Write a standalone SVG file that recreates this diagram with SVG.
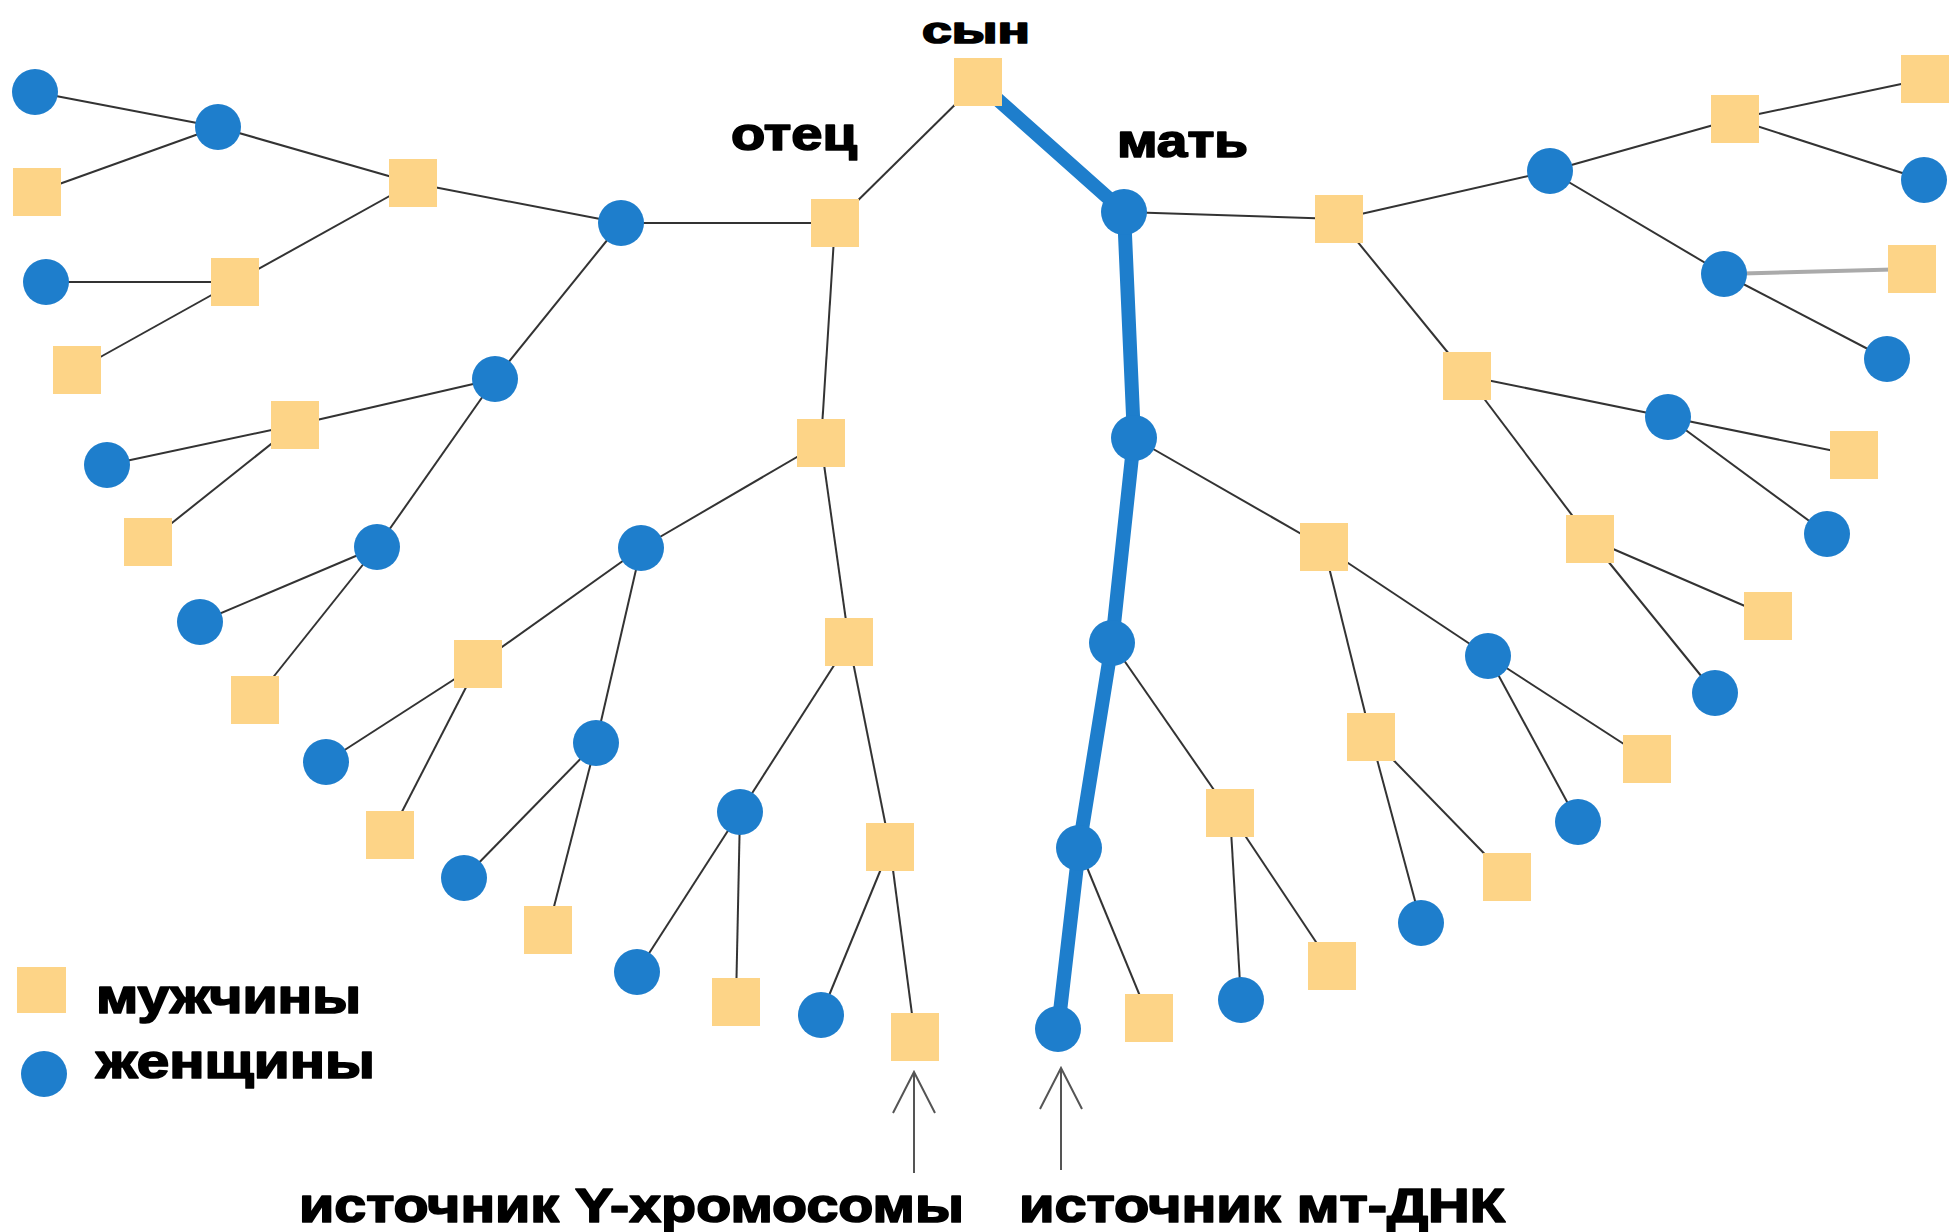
<svg xmlns="http://www.w3.org/2000/svg" width="1951" height="1232" viewBox="0 0 1951 1232">
<style>
.e{stroke:#333;stroke-width:2;fill:none}
.g{stroke:#aaa;stroke-width:4;fill:none}
.thick{stroke:#1e7ecc;stroke-width:14;fill:none;stroke-linejoin:round;stroke-linecap:round}
.m{fill:#fdd487}
.f{fill:#1e7ecc}
.t{font-family:"Liberation Sans",Arial,sans-serif;font-weight:bold;fill:#000;stroke:#000;stroke-width:1.7;stroke-linejoin:round}
.a{stroke:#555;stroke-width:2;fill:none}
</style>
<defs>
<marker id="v" markerUnits="userSpaceOnUse" viewBox="-45 -25 50 50" markerWidth="50" markerHeight="50" refX="0" refY="0" orient="auto" overflow="visible">
<path d="M-41,-21 L0,0 L-41,21" stroke="#555" stroke-width="2" fill="none"/>
</marker>
</defs>
<rect width="1951" height="1232" fill="#fff"/>
<g id="connectors">
<line class="e" x1="978" y1="82" x2="835" y2="223"/>
<line class="e" x1="835" y1="223" x2="621" y2="223"/>
<line class="e" x1="835" y1="223" x2="821" y2="443"/>
<line class="e" x1="621" y1="223" x2="413" y2="183"/>
<line class="e" x1="621" y1="223" x2="495" y2="379"/>
<line class="e" x1="413" y1="183" x2="218" y2="127"/>
<line class="e" x1="413" y1="183" x2="235" y2="282"/>
<line class="e" x1="218" y1="127" x2="35" y2="92"/>
<line class="e" x1="218" y1="127" x2="37" y2="192"/>
<line class="e" x1="235" y1="282" x2="46" y2="282"/>
<line class="e" x1="235" y1="282" x2="77" y2="370"/>
<line class="e" x1="495" y1="379" x2="295" y2="425"/>
<line class="e" x1="495" y1="379" x2="377" y2="547"/>
<line class="e" x1="295" y1="425" x2="107" y2="465"/>
<line class="e" x1="295" y1="425" x2="148" y2="542"/>
<line class="e" x1="377" y1="547" x2="200" y2="622"/>
<line class="e" x1="377" y1="547" x2="255" y2="700"/>
<line class="e" x1="821" y1="443" x2="641" y2="548"/>
<line class="e" x1="821" y1="443" x2="849" y2="642"/>
<line class="e" x1="641" y1="548" x2="478" y2="664"/>
<line class="e" x1="641" y1="548" x2="596" y2="743"/>
<line class="e" x1="478" y1="664" x2="326" y2="762"/>
<line class="e" x1="478" y1="664" x2="390" y2="835"/>
<line class="e" x1="596" y1="743" x2="464" y2="878"/>
<line class="e" x1="596" y1="743" x2="548" y2="930"/>
<line class="e" x1="849" y1="642" x2="740" y2="812"/>
<line class="e" x1="849" y1="642" x2="890" y2="847"/>
<line class="e" x1="740" y1="812" x2="637" y2="972"/>
<line class="e" x1="740" y1="812" x2="736" y2="1002"/>
<line class="e" x1="890" y1="847" x2="821" y2="1015"/>
<line class="e" x1="890" y1="847" x2="915" y2="1037"/>
<line class="e" x1="1124" y1="212" x2="1339" y2="219"/>
<line class="e" x1="1339" y1="219" x2="1550" y2="171"/>
<line class="e" x1="1339" y1="219" x2="1467" y2="376"/>
<line class="e" x1="1550" y1="171" x2="1735" y2="119"/>
<line class="e" x1="1550" y1="171" x2="1724" y2="274"/>
<line class="e" x1="1735" y1="119" x2="1925" y2="79"/>
<line class="e" x1="1735" y1="119" x2="1924" y2="180"/>
<line class="g" x1="1724" y1="274" x2="1912" y2="269"/>
<line class="e" x1="1724" y1="274" x2="1887" y2="359"/>
<line class="e" x1="1467" y1="376" x2="1668" y2="417"/>
<line class="e" x1="1467" y1="376" x2="1590" y2="539"/>
<line class="e" x1="1668" y1="417" x2="1854" y2="455"/>
<line class="e" x1="1668" y1="417" x2="1827" y2="534"/>
<line class="e" x1="1590" y1="539" x2="1768" y2="616"/>
<line class="e" x1="1590" y1="539" x2="1715" y2="693"/>
<line class="e" x1="1134" y1="438" x2="1324" y2="547"/>
<line class="e" x1="1324" y1="547" x2="1488" y2="656"/>
<line class="e" x1="1324" y1="547" x2="1371" y2="737"/>
<line class="e" x1="1488" y1="656" x2="1647" y2="759"/>
<line class="e" x1="1488" y1="656" x2="1578" y2="822"/>
<line class="e" x1="1371" y1="737" x2="1507" y2="877"/>
<line class="e" x1="1371" y1="737" x2="1421" y2="923"/>
<line class="e" x1="1112" y1="643" x2="1230" y2="813"/>
<line class="e" x1="1230" y1="813" x2="1241" y2="1000"/>
<line class="e" x1="1230" y1="813" x2="1332" y2="966"/>
<line class="e" x1="1079" y1="848" x2="1149" y2="1018"/>
<polyline class="thick" points="978,82 1124,212 1134,438 1112,643 1079,848 1058,1029"/>
<line class="a" x1="914" y1="1173" x2="914" y2="1072" marker-end="url(#v)"/>
<line class="a" x1="1061" y1="1170" x2="1061" y2="1068" marker-end="url(#v)"/>
</g>
<g id="nodes">
<g id="son"><rect class="m" x="954" y="58" width="48" height="48"/></g>
<g id="father"><rect class="m" x="811" y="199" width="48" height="48"/></g>
<g id="mother"><circle class="f" cx="1124" cy="212" r="23"/></g>
<g id="p-c"><circle class="f" cx="621" cy="223" r="23"/></g>
<g id="p-q"><rect class="m" x="797" y="419" width="48" height="48"/></g>
<g id="p-b"><rect class="m" x="389" y="159" width="48" height="48"/></g>
<g id="p-e"><circle class="f" cx="495" cy="379" r="23"/></g>
<g id="p-a2"><circle class="f" cx="218" cy="127" r="23"/></g>
<g id="p-d"><rect class="m" x="211" y="258" width="48" height="48"/></g>
<g id="p-a1"><circle class="f" cx="35" cy="92" r="23"/></g>
<g id="p-a3"><rect class="m" x="13" y="168" width="48" height="48"/></g>
<g id="p-d1"><circle class="f" cx="46" cy="282" r="23"/></g>
<g id="p-d2"><rect class="m" x="53" y="346" width="48" height="48"/></g>
<g id="p-f"><rect class="m" x="271" y="401" width="48" height="48"/></g>
<g id="p-m"><circle class="f" cx="377" cy="547" r="23"/></g>
<g id="p-f1"><circle class="f" cx="107" cy="465" r="23"/></g>
<g id="p-f2"><rect class="m" x="124" y="518" width="48" height="48"/></g>
<g id="p-m1"><circle class="f" cx="200" cy="622" r="23"/></g>
<g id="p-m2"><rect class="m" x="231" y="676" width="48" height="48"/></g>
<g id="p-n"><circle class="f" cx="641" cy="548" r="23"/></g>
<g id="p-r"><rect class="m" x="825" y="618" width="48" height="48"/></g>
<g id="p-o"><rect class="m" x="454" y="640" width="48" height="48"/></g>
<g id="p-p"><circle class="f" cx="596" cy="743" r="23"/></g>
<g id="p-o1"><circle class="f" cx="326" cy="762" r="23"/></g>
<g id="p-o2"><rect class="m" x="366" y="811" width="48" height="48"/></g>
<g id="p-p1"><circle class="f" cx="464" cy="878" r="23"/></g>
<g id="p-p2"><rect class="m" x="524" y="906" width="48" height="48"/></g>
<g id="p-s"><circle class="f" cx="740" cy="812" r="23"/></g>
<g id="p-u"><rect class="m" x="866" y="823" width="48" height="48"/></g>
<g id="p-s1"><circle class="f" cx="637" cy="972" r="23"/></g>
<g id="p-s2"><rect class="m" x="712" y="978" width="48" height="48"/></g>
<g id="p-u1"><circle class="f" cx="821" cy="1015" r="23"/></g>
<g id="p-u2"><rect class="m" x="891" y="1013" width="48" height="48"/></g>
<g id="m-g"><rect class="m" x="1315" y="195" width="48" height="48"/></g>
<g id="m-2"><circle class="f" cx="1134" cy="438" r="23"/></g>
<g id="m-h"><circle class="f" cx="1550" cy="171" r="23"/></g>
<g id="m-k"><rect class="m" x="1443" y="352" width="48" height="48"/></g>
<g id="m-i"><rect class="m" x="1711" y="95" width="48" height="48"/></g>
<g id="m-j"><circle class="f" cx="1724" cy="274" r="23"/></g>
<g id="m-i1"><rect class="m" x="1901" y="55" width="48" height="48"/></g>
<g id="m-i2"><circle class="f" cx="1924" cy="180" r="23"/></g>
<g id="m-j1"><rect class="m" x="1888" y="245" width="48" height="48"/></g>
<g id="m-j2"><circle class="f" cx="1887" cy="359" r="23"/></g>
<g id="m-l"><circle class="f" cx="1668" cy="417" r="23"/></g>
<g id="m-w"><rect class="m" x="1566" y="515" width="48" height="48"/></g>
<g id="m-l1"><rect class="m" x="1830" y="431" width="48" height="48"/></g>
<g id="m-l2"><circle class="f" cx="1827" cy="534" r="23"/></g>
<g id="m-w1"><rect class="m" x="1744" y="592" width="48" height="48"/></g>
<g id="m-w2"><circle class="f" cx="1715" cy="693" r="23"/></g>
<g id="m-v"><rect class="m" x="1300" y="523" width="48" height="48"/></g>
<g id="m-3"><circle class="f" cx="1112" cy="643" r="23"/></g>
<g id="m-x"><circle class="f" cx="1488" cy="656" r="23"/></g>
<g id="m-y"><rect class="m" x="1347" y="713" width="48" height="48"/></g>
<g id="m-x1"><rect class="m" x="1623" y="735" width="48" height="48"/></g>
<g id="m-x2"><circle class="f" cx="1578" cy="822" r="23"/></g>
<g id="m-bb"><rect class="m" x="1483" y="853" width="48" height="48"/></g>
<g id="m-cc"><circle class="f" cx="1421" cy="923" r="23"/></g>
<g id="m-t"><rect class="m" x="1206" y="789" width="48" height="48"/></g>
<g id="m-4"><circle class="f" cx="1079" cy="848" r="23"/></g>
<g id="m-aa"><circle class="f" cx="1241" cy="1000" r="23"/></g>
<g id="m-dd"><rect class="m" x="1308" y="942" width="48" height="48"/></g>
<g id="m-z"><rect class="m" x="1125" y="994" width="48" height="48"/></g>
<g id="m-5"><circle class="f" cx="1058" cy="1029" r="23"/></g>
</g>
<g id="legend">
<rect class="m" x="17" y="967" width="49" height="46"/>
<circle class="f" cx="44" cy="1074" r="23"/>
<text class="t" x="96" y="1013" font-size="48" textLength="265" lengthAdjust="spacingAndGlyphs">мужчины</text>
<text class="t" x="96" y="1078" font-size="48" textLength="279" lengthAdjust="spacingAndGlyphs">женщины</text>
</g>
<g id="labels">
<text class="t" x="922" y="43" font-size="37" textLength="108" lengthAdjust="spacingAndGlyphs">сын</text>
<text class="t" x="731" y="150" font-size="47" textLength="126" lengthAdjust="spacingAndGlyphs">отец</text>
<text class="t" x="1117" y="157" font-size="47" textLength="131" lengthAdjust="spacingAndGlyphs">мать</text>
<text class="t" x="299" y="1222" font-size="48" textLength="665" lengthAdjust="spacingAndGlyphs">источник Y-хромосомы</text>
<text class="t" x="1019" y="1222" font-size="48" textLength="486" lengthAdjust="spacingAndGlyphs">источник мт-ДНК</text>
</g>
</svg>
